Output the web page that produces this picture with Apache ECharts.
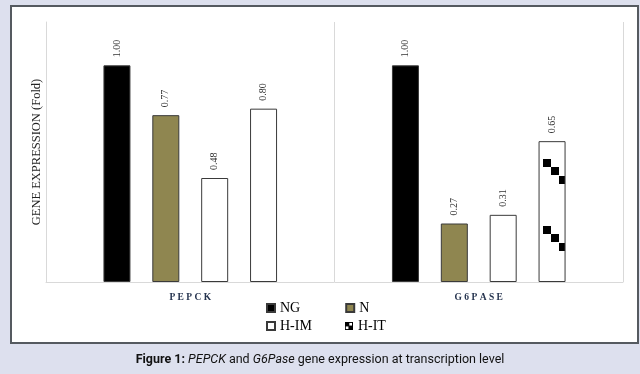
<!DOCTYPE html>
<html>
<head>
<meta charset="utf-8">
<script src="https://cdn.jsdelivr.net/npm/echarts@6/dist/echarts.min.js"></script>
<style>
  html, body { margin: 0; padding: 0; background: #dde0ee; }
  #panel { position: absolute; left: 10px; top: 5px; width: 625px; height: 335px; background: #fff; border: 2px solid #555a60; }
  #chart { position: absolute; left: 0; top: 0; width: 640px; height: 374px; }
</style>
</head>
<body>
<div id="panel"></div>
<div id="chart"></div>
<script>
const categories = ['P E P C K', 'G 6 P A S E'];
const seriesNames = ['NG', 'N', 'H-IM', 'H-IT'];
const valuesNG = [1.00, 1.00];
const valuesN = [0.77, 0.27];
const valuesHIM = [0.48, 0.31];
const valuesHIT = [0.80, 0.65];

// Pattern tile for H-IT (black squares in diagonal steps)
const tile = document.createElement('canvas');
tile.width = 640; tile.height = 67;
const tc = tile.getContext('2d');
tc.fillStyle = '#fff'; tc.fillRect(0, 0, 640, 67);
tc.fillStyle = '#000';
tc.fillRect(543, 25, 8, 8);
tc.fillRect(551, 33, 8, 8);
tc.fillRect(559, 42, 8, 8);

// Legend icon for H-IT
const ic = document.createElement('canvas');
ic.width = 9; ic.height = 9;
const icx = ic.getContext('2d');
icx.fillStyle = '#000'; icx.fillRect(0, 0, 9, 9);
icx.fillStyle = '#fff';
icx.fillRect(5, 1, 3, 3);
icx.fillRect(1, 5, 3, 3);
const hitIcon = 'image://' + ic.toDataURL();

const chart = echarts.init(document.getElementById('chart'), null, { renderer: 'canvas' });
const border = '#3a3a3a';
const labelCfg = {
  show: true, position: 'top', rotate: 90, align: 'left', verticalAlign: 'middle',
  distance: 8, fontFamily: 'Liberation Serif', fontSize: 10, color: '#333',
  formatter: p => p.value.toFixed(2)
};
function mk(name, data, color) {
  return {
    name, type: 'bar', data, barWidth: 27, barGap: '81%',
    itemStyle: { color, borderColor: border, borderWidth: 1 },
    label: labelCfg
  };
}
const legendText = { fontFamily: 'Liberation Serif', fontSize: 14, color: '#000' };
const legendBase = {
  left: 261, itemWidth: 8, itemHeight: 8, icon: 'rect',
  textStyle: legendText, selectedMode: false
};
chart.setOption({
  animation: false,
  backgroundColor: 'transparent',
  title: {
    left: 'center', top: 348,
    text: '{b|Figure 1:} {i|PEPCK} and {i|G6Pase} gene expression at transcription level',
    textStyle: {
      fontFamily: 'Roboto', fontSize: 12.5, fontWeight: 'normal', color: '#111',
      rich: {
        b: { fontFamily: 'Roboto', fontSize: 12.5, fontWeight: 'bold', color: '#111' },
        i: { fontFamily: 'Roboto', fontSize: 12.5, fontStyle: 'italic', color: '#111' }
      }
    }
  },
  legend: [
    Object.assign({}, legendBase, { data: ['NG', 'N'], top: 296, itemGap: 45 }),
    Object.assign({}, legendBase, { data: ['H-IM', { name: 'H-IT', icon: hitIcon }], top: 314, itemGap: 33 })
  ],
  grid: { left: 46, right: 17, top: 22, bottom: 92 },
  xAxis: {
    type: 'category', data: categories,
    axisLine: { show: true, lineStyle: { color: '#d9d9d9', width: 1 } },
    axisTick: { show: false },
    splitLine: { show: true, lineStyle: { color: '#d9d9d9', width: 1 } },
    axisLabel: { margin: 11, fontFamily: 'Liberation Serif', fontSize: 9.5, fontWeight: 'bold', color: '#26344f' }
  },
  yAxis: {
    type: 'value', min: 0, max: 1.2,
    name: 'GENE EXPRESSION (Fold)', nameLocation: 'middle', nameGap: 3,
    nameTextStyle: { fontFamily: 'Liberation Serif', fontSize: 12.5, color: '#222' },
    axisLine: { show: true, lineStyle: { color: '#d9d9d9', width: 1 } },
    axisTick: { show: false },
    axisLabel: { show: false },
    splitLine: { show: false }
  },
  series: [
    mk('NG', valuesNG, '#000000'),
    mk('N', valuesN, '#8f8650'),
    mk('H-IM', valuesHIM, '#ffffff'),
    mk('H-IT', valuesHIT, { image: tile, repeat: 'repeat' })
  ]
});
</script>
</body>
</html>
